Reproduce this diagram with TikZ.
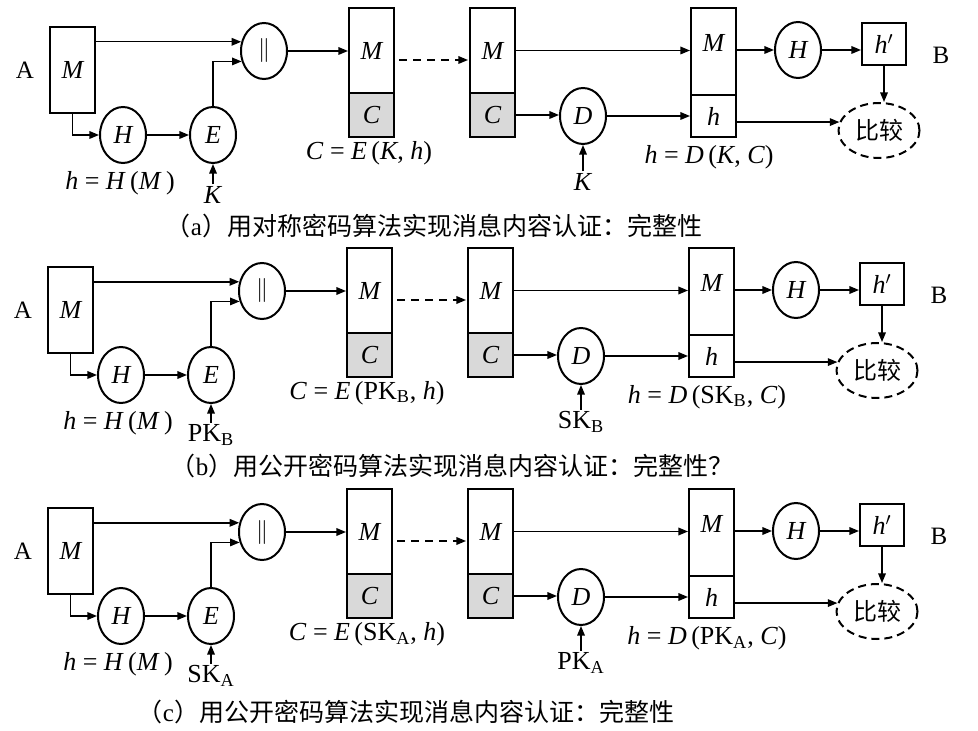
\documentclass[tikz,border=0pt]{standalone}
\usepackage{fontspec}
\setmainfont{Liberation Serif}
\newfontfamily\cjk{Noto Sans CJK SC}
\usepackage{tikz}
\usetikzlibrary{
  shapes.geometric,
  arrows.meta,
  positioning, calc
}
\colorlet{cgray}{black!15}

\begin{document}
\begin{tikzpicture}[x=0.5pt, y=-0.5pt,
  blk/.style={rectangle, draw, line width=1pt, inner sep=0pt, minimum width=22.5pt,
              font=\fontsize{13}{15}\selectfont\itshape},
  opnode/.style={ellipse, draw, line width=1pt, inner sep=0pt, minimum width=23pt,
                 minimum height=28pt, font=\fontsize{13}{15}\selectfont\itshape},
  cmp/.style={ellipse, draw, line width=1pt, dash pattern=on 4pt off 2.5pt, inner sep=0pt,
              minimum width=40.5pt, minimum height=27.5pt, font=\fontsize{12}{14}\selectfont\cjk},
  arr/.style={-{Triangle[length=4.8pt,width=3.8pt]}, line width=0.7pt},
  lbl/.style={font=\fontsize{13}{15}\selectfont, inner sep=0pt},
  keylbl/.style={lbl, outer sep=1pt},
  endlbl/.style={font=\fontsize{12.5}{14}\selectfont, inner sep=0pt},
  capt/.style={font=\fontsize{12.5}{14}\selectfont, inner sep=0pt}
]

\useasboundingbox (0,0) rectangle (978,731);

% one row per scheme: (a) symmetric, (b) and (c) public key
\foreach \i/\dx/\dy/\ke/\kd/\ce/\hd/\cx/\cy/\ctext in {
  a/0/0/{\textit{K}}/{\textit{K}}/{\textit{K}, \textit{h}}/{\textit{K}, \textit{C}}/434/226/{用对称密码算法实现消息内容认证：完整性},
  b/-2/240/{PK\textsubscript{B}}/{SK\textsubscript{B}}/{PK\textsubscript{B}, \textit{h}}/{SK\textsubscript{B}, \textit{C}}/454/226/{用公开密码算法实现消息内容认证：完整性？},
  c/-2/481/{SK\textsubscript{A}}/{PK\textsubscript{A}}/{SK\textsubscript{A}, \textit{h}}/{PK\textsubscript{A}, \textit{C}}/408/231/{用公开密码算法实现消息内容认证：完整性}
}{
\begin{scope}[shift={(\dx,\dy)}]

% sender A
\node[endlbl] (A\i) at (25,70) {A};
\node[blk, minimum height=43pt] (msg\i) at (72.5,70) {M};
\node[opnode] (hsh\i) at (123,135) {H};
\node[opnode] (enc\i) at (213,135) {E};
\node[opnode, font=\fontsize{12}{13}\selectfont] (cat\i) at (264,51) {$\|$};
\node[keylbl] (ke\i) at (213,195) {\ke};
\node[lbl] (hm\i) at (120,183) {\textit{h} = \textit{H}\,(\textit{M}\,)};

% message sent and received
\node[blk, minimum height=42.5pt] (pm\i) at (371.5,50.5) {M};
\node[blk, minimum height=22pt, fill=cgray] (pc\i) at (371.5,115) {C};
\node[lbl] (ce\i) at (369,153) {\textit{C} = \textit{E}\,(\ce)};
\node[blk, minimum height=42.5pt] (qm\i) at (492.5,50.5) {M};
\node[blk, minimum height=22pt, fill=cgray] (qc\i) at (492.5,115) {C};

% receiver B
\node[opnode] (dec\i) at (583,116) {D};
\node[keylbl] (kd\i) at (583,182) {\kd};
\node[blk, minimum height=43.5pt, text depth=8.5pt] (rm\i) at (713.5,51.5) {M};
\node[blk, minimum height=21pt] (rh\i) at (713.5,116) {h};
\node[lbl] (hd\i) at (709,157) {\textit{h} = \textit{D}\,(\hd)};
\node[opnode] (rhs\i) at (798,50) {H};
\node[blk, minimum width=22pt, minimum height=21pt] (hp\i) at (884,44) {h$'$};
\node[endlbl] (B\i) at (941,55) {B};
\node[cmp] (cmp\i) at (879,130.5) {比较};

\node[capt] (cap\i) at (\cx,\cy) {{\cjk （}\i{\cjk ）\ctext}};

% connections
\draw[arr] (msg\i.east |- cat\i.158) -- (cat\i.158);
\draw[arr] (msg\i.south) |- (hsh\i.west);
\draw[arr] (hsh\i) -- (enc\i);
\draw[arr] (ke\i) -- (enc\i.south);
\draw[arr] (enc\i.north) |- (cat\i.205);
\draw[arr] (cat\i.east) -- (pm\i.west |- cat\i.east);
\draw[arr, dash pattern=on 4pt off 3pt] ($(pm\i.east)+(4,9.5)$) -- ($(qm\i.west)+(-1,9.5)$);
\draw[arr] (qm\i.east) -- (qm\i.east -| rm\i.west);
\draw[arr] (qc\i.east) -- (qc\i.east -| dec\i.west);
\draw[arr] (kd\i) -- (dec\i.south);
\draw[arr] (dec\i) -- (rh\i);
\draw[arr] (rm\i.east |- rhs\i.west) -- (rhs\i.west);
\draw[arr] (rhs\i.east) -- (rhs\i.east -| hp\i.west);
\draw[arr] (hp\i.south) -- (hp\i.south |- cmp\i.north);
\draw[arr] (rh\i.east |- cmp\i.168) -- (cmp\i.168);

\end{scope}
}

\end{tikzpicture}
\end{document}
